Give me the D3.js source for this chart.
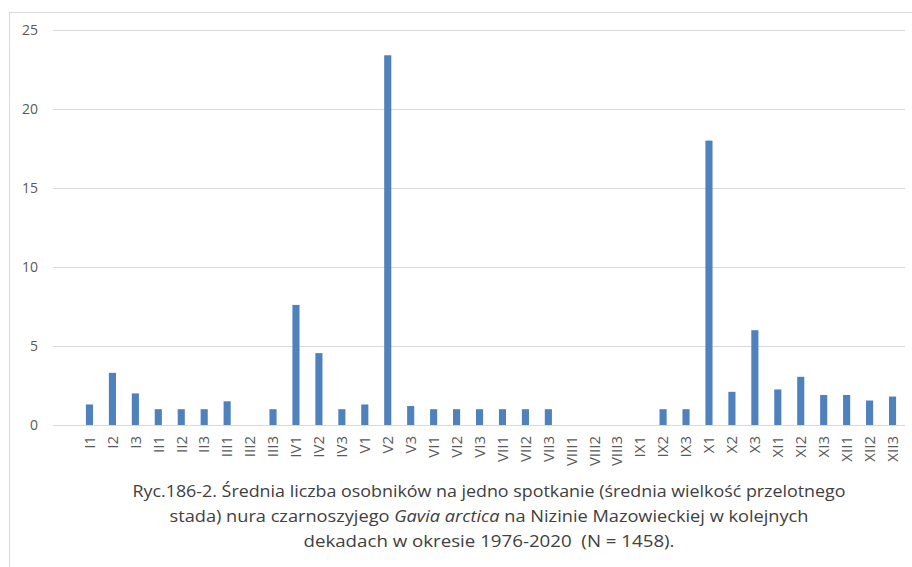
<!DOCTYPE html>
<html><head><meta charset="utf-8">
<script src="https://cdn.jsdelivr.net/npm/d3@7"></script>
<style>
html,body{margin:0;padding:0;background:#fff;}
svg{display:block;font-family:"Open Sans",sans-serif;}
</style></head>
<body>
<svg id="chart" width="912" height="567"></svg>
<script>
const categories = ["I1","I2","I3","II1","II2","II3","III1","III2","III3","IV1","IV2","IV3","V1","V2","V3","VI1","VI2","VI3","VII1","VII2","VII3","VIII1","VIII2","VIII3","IX1","IX2","IX3","X1","X2","X3","XI1","XI2","XI3","XII1","XII2","XII3"];
const values = [1.3,3.3,2.0,1.0,1.0,1.0,1.5,0,1.0,7.6,4.55,1.0,1.3,23.4,1.2,1.0,1.0,1.0,1.0,1.0,1.0,0,0,0,0,1.0,1.0,18.0,2.1,6.0,2.25,3.05,1.9,1.9,1.55,1.8];
const yTicks = [0,5,10,15,20,25];
const captionLines = [
  [{t:"Ryc.186-2. Średnia liczba osobników na jedno spotkanie (średnia wielkość przelotnego"}],
  [{t:"stada) nura czarnoszyjego "},{t:"Gavia arctica",i:true},{t:" na Nizinie Mazowieckiej w kolejnych"}],
  [{t:"dekadach w okresie 1976-2020  (N = 1458)."}]
];

const svg = d3.select("#chart");
svg.append("rect").attr("x",9.5).attr("y",12.5).attr("width",920).attr("height",600)
  .attr("fill","none").attr("stroke","#d9d9d9").attr("stroke-width",1);

const plotL = 53, plotR = 905;
const y = d3.scaleLinear().domain([0,25]).range([425,30]);
const x = d3.scaleBand().domain(categories).range([78,904]).paddingInner(0.69).paddingOuter(0.345);

svg.append("g").selectAll("line").data(yTicks).join("line")
  .attr("x1",plotL).attr("x2",plotR)
  .attr("y1",d=>Math.round(y(d))+0.5).attr("y2",d=>Math.round(y(d))+0.5)
  .attr("stroke","#d9d9d9").attr("stroke-width",1);

const yAxis = d3.axisLeft(y).tickValues(yTicks).tickSize(0).tickPadding(0);
const gy = svg.append("g").attr("transform","translate(38,0)").call(yAxis);
gy.select(".domain").remove();
gy.selectAll("text").attr("fill","#595959").style("font-size","14px")
  .style("font-family",'"Open Sans",sans-serif');

svg.append("g").selectAll("rect").data(values).join("rect")
  .attr("x",(d,i)=>x(categories[i]))
  .attr("width",x.bandwidth())
  .attr("y",d=>y(d))
  .attr("height",d=>y(0)-y(d))
  .attr("fill","#4f81bd");

const xAxis = d3.axisBottom(x).tickSize(0).tickPadding(0);
const gx = svg.append("g").attr("transform","translate(0,436)").call(xAxis);
gx.select(".domain").remove();
gx.selectAll("text")
  .attr("transform","rotate(-90)")
  .attr("x",0).attr("y",0).attr("dy","0.35em")
  .attr("text-anchor","end")
  .attr("fill","#595959").style("font-size","15px")
  .style("font-family",'"Open Sans",sans-serif');

const capY = [497,522,547];
const capW = [713,639,371];
captionLines.forEach((parts,li)=>{
  const t = svg.append("text").attr("x",489).attr("y",capY[li])
    .attr("text-anchor","middle").attr("fill","#404040")
    .style("font-size","16.5px").style("white-space","pre")
    .attr("textLength",capW[li]).attr("lengthAdjust","spacingAndGlyphs");
  parts.forEach(p=>{
    t.append("tspan").text(p.t).attr("font-style",p.i?"italic":null);
  });
});
</script>
</body></html>
